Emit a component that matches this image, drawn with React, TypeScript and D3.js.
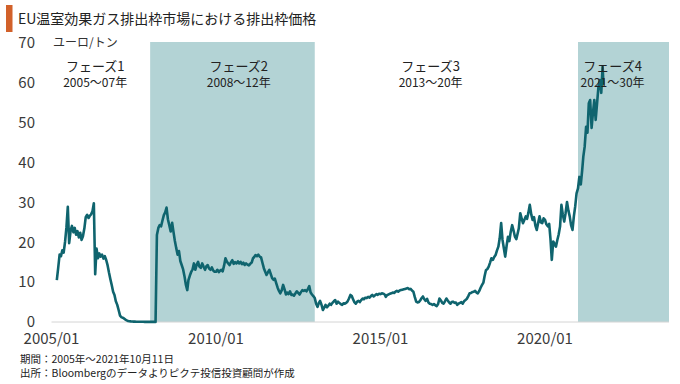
import React from "react";
import * as d3 from "d3";

// ---- Data (semi-monthly readings: 1st and 16th of each month) ----
const p2005 = [null, null, null, null, 10.5, 13.5, 16.9, 16.5, 18.0, 17.4, 20.2, 23.8, 28.9, 19.8, 22.9, 24.1, 22.5, 23.6, 21.9, 22.8, 21.2, 22.4, 20.6, 21.5];
const p2006 = [23.5, 26.3, 26.9, 26.1, 26.6, 27.0, 27.8, 29.8, 12.0, 18.4, 16.0, 17.2, 16.4, 16.9, 15.9, 16.5, 15.5, 14.2, 12.4, 10.8, 9.2, 7.6, 6.8, 5.2];
const p2007 = [4.3, 3.0, 1.6, 1.2, 1.1, 0.9, 0.6, 0.4, 0.25, 0.2, 0.15, 0.12, 0.1, 0.1, 0.08, 0.08, 0.06, 0.06, 0.05, 0.05, 0.04, 0.03, 0.03, 0.02];
const p2008 = [0.02, 0.02, 0.02, 0.02, 0.02, 21.8, 23.6, 24.3, 24.0, 25.4, 26.8, 27.5, 28.7, 25.8, 24.2, 22.7, 24.9, 22.6, 20.4, 18.6, 16.9, 17.8, 15.3, 14.3];
const p2009 = [13.2, 11.5, 9.3, 8.0, 10.5, 11.6, 12.6, 13.2, 14.7, 13.1, 14.4, 15.1, 13.9, 13.6, 14.7, 13.9, 13.1, 14.0, 14.3, 13.4, 13.1, 13.7, 12.9, 12.6];
const p2010 = [12.6, 13.1, 12.5, 12.9, 13.1, 12.7, 14.2, 16.0, 15.2, 14.7, 14.3, 15.0, 15.5, 14.6, 15.0, 14.7, 15.2, 14.7, 15.1, 14.5, 14.9, 14.3, 14.7, 14.4];
const p2011 = [14.2, 14.6, 14.9, 16.0, 16.3, 16.8, 16.5, 16.9, 16.4, 16.2, 14.8, 13.5, 12.6, 11.8, 12.5, 13.1, 12.0, 11.0, 10.6, 10.9, 9.7, 8.6, 7.8, 7.2];
const p2012 = [8.0, 9.3, 8.2, 6.9, 7.4, 7.0, 7.7, 6.8, 6.9, 6.6, 7.2, 7.7, 7.3, 6.9, 7.5, 8.0, 7.8, 8.0, 7.7, 8.2, 9.0, 7.4, 6.9, 6.5];
const p2013 = [6.0, 4.6, 3.8, 4.8, 5.3, 4.4, 3.0, 3.6, 4.3, 3.7, 4.1, 4.6, 4.3, 4.8, 5.2, 5.5, 4.6, 5.1, 4.8, 4.5, 4.3, 4.7, 4.6, 4.8];
const p2014 = [5.2, 5.9, 6.8, 6.5, 5.8, 5.0, 4.6, 5.1, 5.3, 5.0, 5.5, 5.9, 5.7, 6.1, 6.0, 6.3, 6.1, 6.5, 6.8, 6.4, 6.7, 7.0, 6.8, 7.1];
const p2015 = [7.0, 7.2, 7.1, 6.9, 6.3, 6.8, 6.9, 7.1, 7.2, 7.4, 7.3, 7.6, 7.8, 7.6, 7.9, 8.0, 8.1, 8.2, 8.3, 8.4, 8.5, 8.2, 8.3, 7.9];
const p2016 = [7.6, 6.3, 5.1, 4.9, 5.0, 5.4, 6.0, 6.4, 5.7, 5.3, 5.8, 4.9, 4.6, 4.5, 4.3, 4.5, 4.2, 4.0, 4.5, 5.9, 5.4, 4.8, 4.6, 5.2];
const p2017 = [5.9, 5.4, 4.9, 4.6, 5.0, 5.1, 4.8, 4.9, 4.3, 4.6, 4.8, 5.0, 4.6, 5.2, 5.5, 5.8, 6.5, 7.2, 7.3, 7.5, 7.6, 7.8, 7.4, 7.2];
const p2018 = [7.8, 8.6, 9.3, 9.9, 11.5, 13.0, 13.3, 13.9, 14.9, 16.0, 15.6, 16.3, 16.8, 17.9, 18.9, 21.0, 24.8, 20.6, 18.5, 16.4, 19.2, 21.4, 20.3, 22.6];
const p2019 = [24.3, 23.0, 21.4, 20.8, 22.0, 23.5, 27.3, 26.0, 24.8, 25.6, 26.5, 25.9, 27.5, 29.4, 27.0, 25.6, 26.3, 24.2, 23.1, 24.8, 26.5, 25.0, 24.8, 26.0];
const p2020 = [25.6, 24.5, 24.0, 24.6, 21.0, 15.6, 20.2, 19.6, 18.9, 20.5, 22.0, 24.0, 29.4, 27.0, 25.2, 27.3, 30.1, 28.0, 26.5, 24.3, 23.1, 26.5, 29.0, 32.3];
const p2021 = [33.5, 36.4, 34.5, 38.0, 41.5, 44.0, 49.0, 47.5, 54.9, 55.7, 48.7, 52.5, 55.7, 50.7, 55.0, 59.0, 60.7, 57.5, 64.0, 59.5];

const yearlyPrices: [number, (number | null)[]][] = [
  [2005, p2005], [2006, p2006], [2007, p2007], [2008, p2008], [2009, p2009],
  [2010, p2010], [2011, p2011], [2012, p2012], [2013, p2013], [2014, p2014],
  [2015, p2015], [2016, p2016], [2017, p2017], [2018, p2018], [2019, p2019],
  [2020, p2020], [2021, p2021],
];
const lastDate = new Date(2021, 9, 11);

const phaseNames = ["フェーズ1", "フェーズ2", "フェーズ3", "フェーズ4"];
const phaseYears = ["2005～07年", "2008～12年", "2013～20年", "2021～30年"];
const phaseLabelAt = [new Date(2006, 4, 1), new Date(2010, 8, 10), new Date(2016, 6, 10), new Date(2022, 0, 20)];
const shadedPhases: [Date, Date][] = [
  [new Date(2008, 0, 1), new Date(2013, 0, 1)],
  [new Date(2021, 0, 1), new Date(2023, 9, 8)],
];

const xTicks = [new Date(2005, 0, 1), new Date(2010, 0, 1), new Date(2015, 0, 1), new Date(2020, 0, 1)];
const yTicks = [0, 10, 20, 30, 40, 50, 60, 70];

const title = "EU温室効果ガス排出枠市場における排出枠価格";
const unitLabel = "ユーロ/トン";
const notes = ["期間：2005年～2021年10月11日", "出所：Bloombergのデータよりピクテ投信投資顧問が作成"];

type Pt = { date: Date; v: number };

export default function App() {
  const W = 680, H = 384;
  const font = "'Noto Sans CJK JP', 'Noto Sans', sans-serif";
  const x = d3.scaleTime().domain([new Date(2005, 0, 1), new Date(2023, 9, 8)]).range([51.5, 669]);
  const y = d3.scaleLinear().domain([0, 70]).range([322, 43]);

  const points: Pt[] = [];
  yearlyPrices.forEach(([yr, arr]) => {
    arr.forEach((v, i) => {
      if (v == null) return;
      let date = new Date(yr, Math.floor(i / 2), i % 2 ? 16 : 1);
      if (date > lastDate) date = lastDate;
      points.push({ date, v });
    });
  });

  const line = d3.line<Pt>().x((d) => x(d.date)).y((d) => y(d.v));
  const fmt = d3.timeFormat("%Y/%m");

  return (
    <div style={{ position: "absolute", left: 0, top: 0 }}>
      <svg width={W} height={H} style={{ display: "block", fontFamily: font }}>
        <rect width={W} height={H} fill="#fff" />
        {/* title */}
        <rect x={6} y={5} width={6.5} height={27} fill="#d2612a" />
        <text x={18} y={24} fontSize={14} fill="#222">{title}</text>

        {/* shaded phases */}
        {shadedPhases.map(([a, b], i) => (
          <rect key={i} x={x(a)} y={y(70) - 1} width={x(b) - x(a)} height={y(0) - y(70) + 1} fill="#b3d3d5" />
        ))}

        {/* baseline */}
        <line x1={x.range()[0]} x2={x.range()[1]} y1={y(0)} y2={y(0)} stroke="#d4d4d4" strokeWidth={1} />

        {/* y ticks */}
        {yTicks.map((t) => (
          <text key={t} x={35} y={y(t)} dy="0.35em" textAnchor="end" fontSize={15} fill="#3a3a3a">{t}</text>
        ))}
        <text x={53} y={43} dy="0.35em" fontSize={12} fill="#333">{unitLabel}</text>

        {/* x ticks */}
        {xTicks.map((t, i) => (
          <text key={i} x={x(t)} y={344} textAnchor="middle" fontSize={15} fill="#3a3a3a">{fmt(t)}</text>
        ))}

        {/* price line */}
        <path d={line(points) || ""} fill="none" stroke="#0f646e" strokeWidth={2.6} strokeLinejoin="round" />

        {/* phase labels */}
        {phaseNames.map((n, i) => (
          <g key={i}>
            <text x={x(phaseLabelAt[i])} y={71} textAnchor="middle" fontSize={13} fill="#222">{n}</text>
            <text x={x(phaseLabelAt[i])} y={87} textAnchor="middle" fontSize={12} fill="#222">{phaseYears[i]}</text>
          </g>
        ))}

        {/* notes */}
        {notes.map((n, i) => (
          <text key={i} x={20} y={363 + i * 14} fontSize={10.5} fill="#222">{n}</text>
        ))}
      </svg>
    </div>
  );
}
